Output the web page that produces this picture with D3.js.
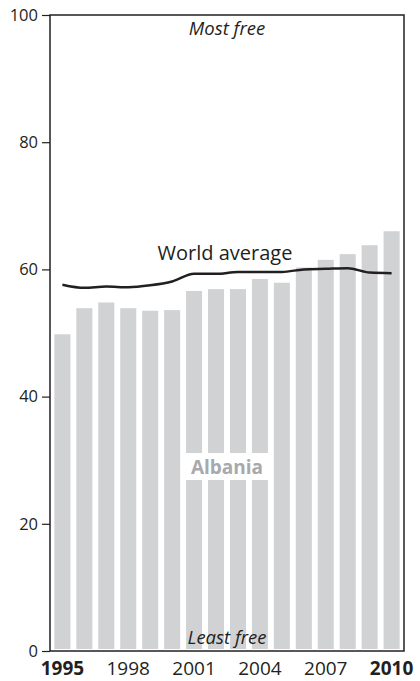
<!DOCTYPE html>
<html><head><meta charset="utf-8">
<script src="https://cdn.jsdelivr.net/npm/d3@7"></script>
<style>body{margin:0;background:#fff}svg{display:block}</style>
</head><body>
<script>
const years = [1995,1996,1997,1998,1999,2000,2001,2002,2003,2004,2005,2006,2007,2008,2009,2010];
const albania = [49.8,53.9,54.8,53.9,53.5,53.6,56.6,56.9,56.9,58.5,57.9,60.3,61.5,62.4,63.8,66.0];
const worldAverage = [57.6,57.1,57.3,57.2,57.5,58.1,59.3,59.3,59.6,59.6,59.6,60.0,60.1,60.2,59.5,59.4];
const yTicks = [0,20,40,60,80,100];
const xTickYears = [1995,1998,2001,2004,2007,2010];
const boldYears = [1995,2010];

const W = 420, H = 681;
const m = {left:50, right:16, top:15, bottom:30};
const svg = d3.select("body").append("svg").attr("width",W).attr("height",H);
const font = "'Open Sans', sans-serif";

const x = d3.scaleBand().domain(years).range([m.left, W-m.right]).paddingInner(0.27).paddingOuter(0.2);
const y = d3.scaleLinear().domain([0,100]).range([H-m.bottom, m.top]);

// bars
svg.append("g").selectAll("rect").data(albania).join("rect")
  .attr("x",(d,i)=>x(years[i])).attr("width",x.bandwidth())
  .attr("y",d=>y(d)).attr("height",d=>y(0)-2-y(d))
  .attr("fill","#d1d2d4");

// white box behind Albania label
svg.append("rect").attr("x",182).attr("y",453).attr("width",89).attr("height",27).attr("fill","#fff");
svg.append("text").attr("x",227).attr("y",474).attr("text-anchor","middle")
  .attr("font-family",font).attr("font-weight","bold").attr("font-size",19).attr("fill","#a7a9ac").text("Albania");

// frame
svg.append("rect").attr("x",m.left).attr("y",m.top).attr("width",W-m.right-m.left).attr("height",y(0)-m.top)
  .attr("fill","none").attr("stroke","#231f20").attr("stroke-width",1.5);

// world average line
const line = d3.line().x((d,i)=>x(years[i])+x.bandwidth()/2).y(d=>y(d)).curve(d3.curveMonotoneX);
svg.append("path").datum(worldAverage).attr("d",line).attr("fill","none").attr("stroke","#231f20").attr("stroke-width",2.5);
svg.append("text").attr("x",225).attr("y",260).attr("text-anchor","middle")
  .attr("font-family",font).attr("font-size",20).attr("fill","#231f20").text("World average");

// y axis
const yAxis = svg.append("g").attr("transform",`translate(${m.left},0)`)
  .call(d3.axisLeft(y).tickValues(yTicks).tickSize(8).tickPadding(4));
yAxis.select(".domain").remove();
yAxis.selectAll("line").attr("stroke","#231f20").attr("stroke-width",1.2);
yAxis.selectAll("text").attr("font-family",font).attr("font-size",16.5).attr("fill","#231f20");

// x axis
const xAxis = svg.append("g").attr("transform",`translate(0,${y(0)})`)
  .call(d3.axisBottom(x).tickValues(xTickYears).tickSize(0).tickPadding(11));
xAxis.select(".domain").remove();
xAxis.selectAll("text").attr("font-family",font).attr("font-size",19).attr("fill","#231f20")
  .attr("font-weight",d=>boldYears.includes(d)?"bold":"normal");

// annotations
svg.append("text").attr("x",227).attr("y",35).attr("text-anchor","middle")
  .attr("font-family",font).attr("font-style","italic").attr("font-size",18.5).attr("fill","#231f20").text("Most free");
svg.append("text").attr("x",227).attr("y",644).attr("text-anchor","middle")
  .attr("font-family",font).attr("font-style","italic").attr("font-size",18.5).attr("fill","#231f20").text("Least free");
</script>
</body></html>
